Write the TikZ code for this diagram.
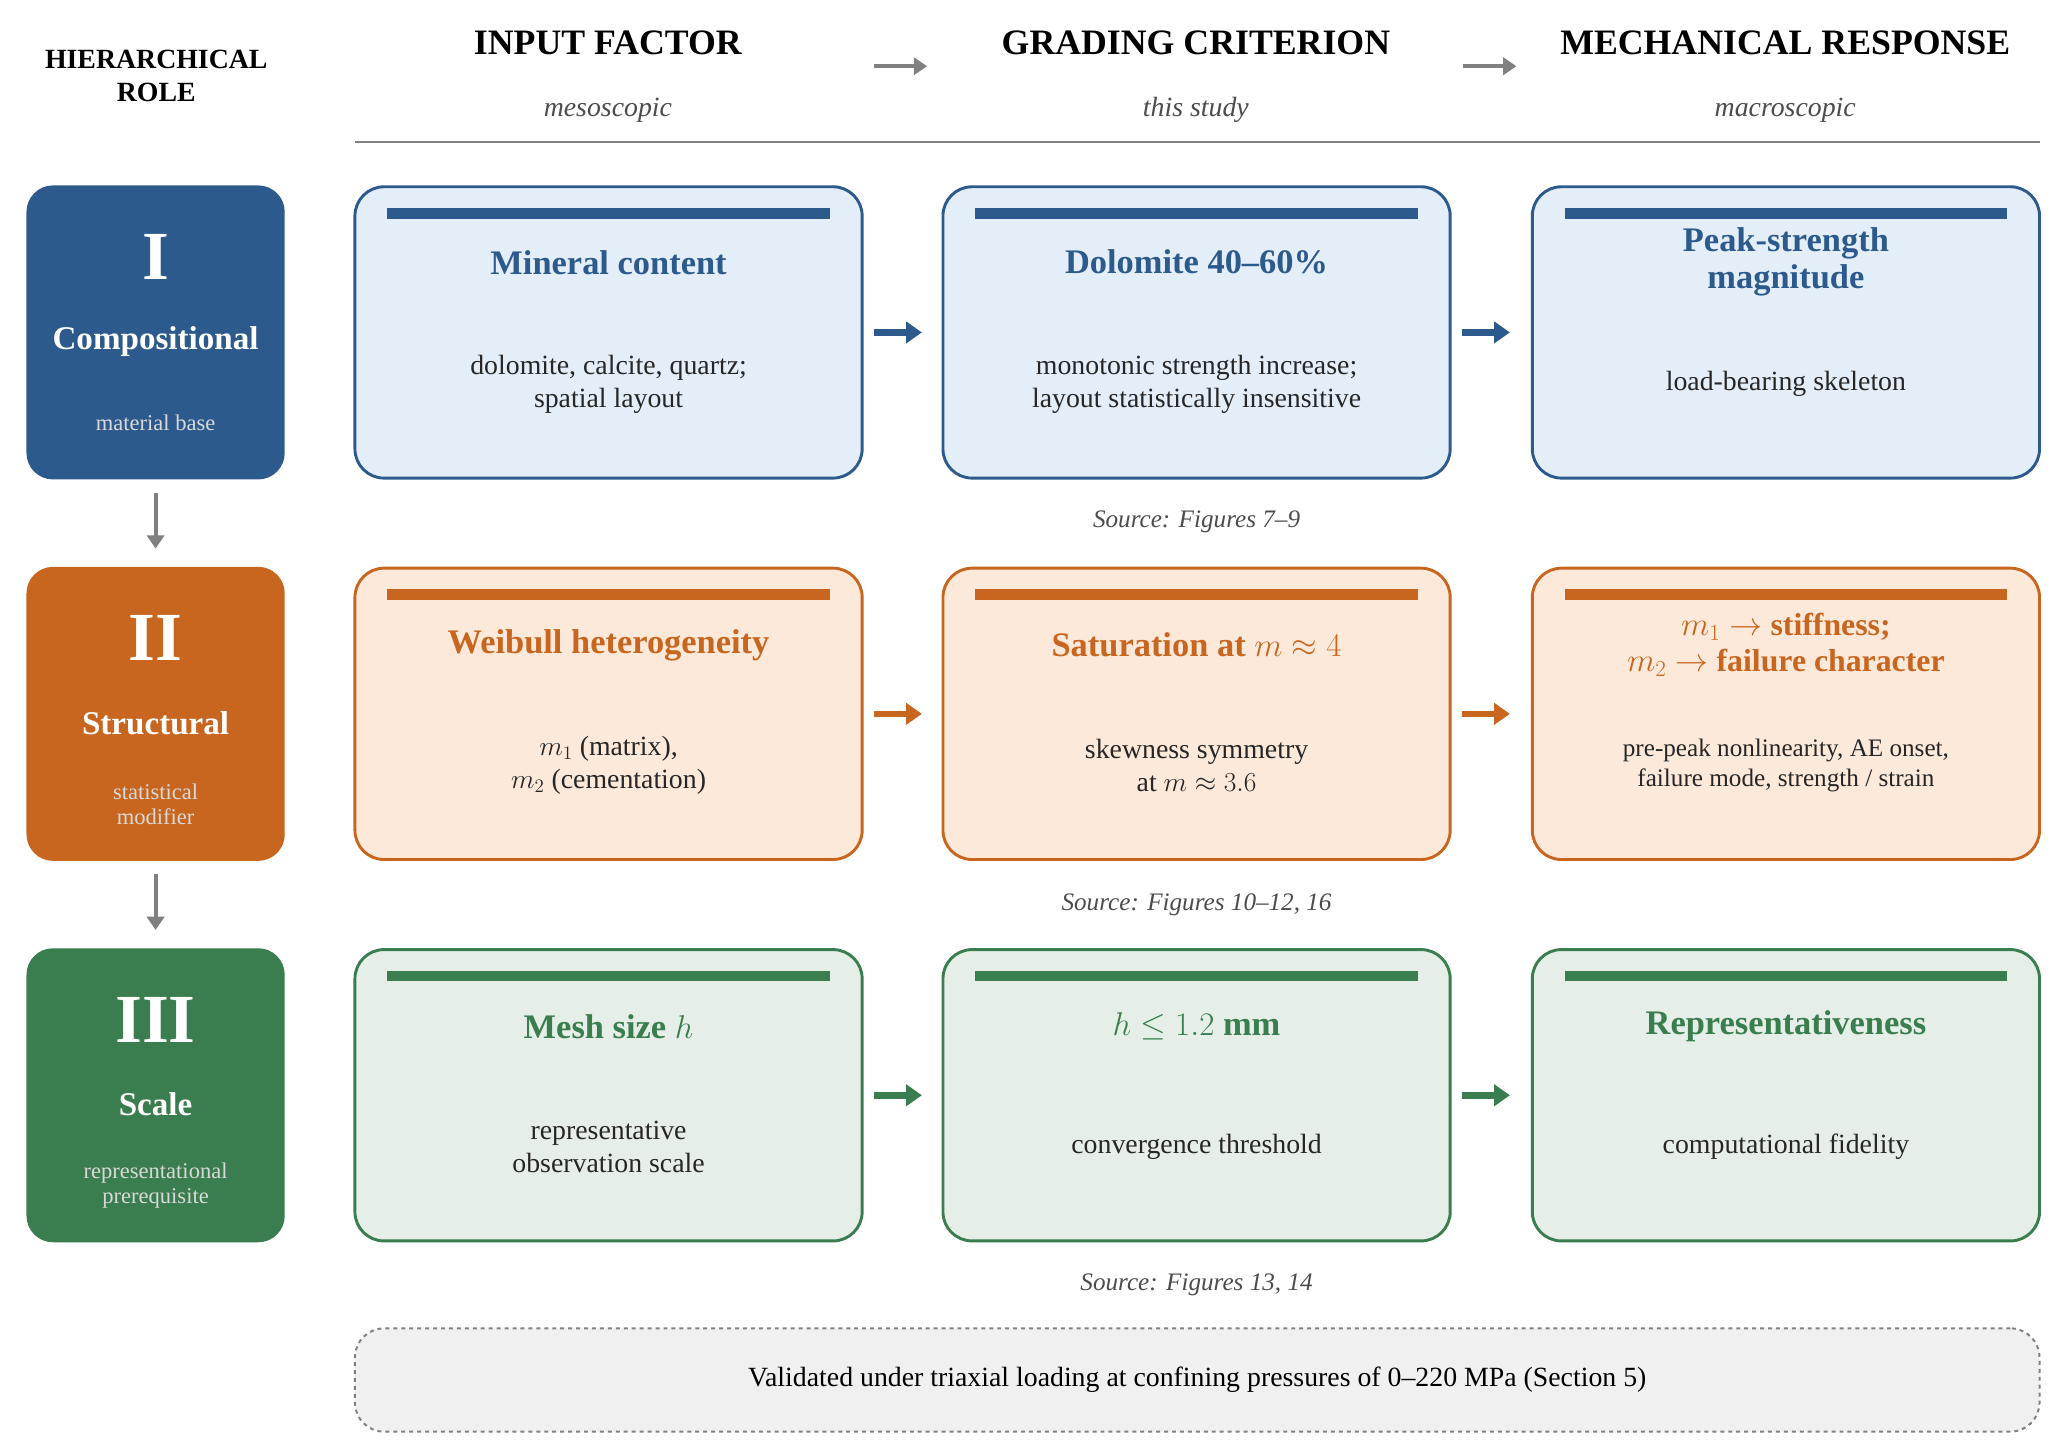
\documentclass[tikz,border=0pt]{standalone}
\usepackage{fontspec}
\setmainfont{Liberation Serif}
\usetikzlibrary{arrows.meta}
\definecolor{cb}{HTML}{2D5A8C}\definecolor{fb}{HTML}{E4EEF8}
\definecolor{co}{HTML}{C8661F}\definecolor{fo}{HTML}{FCE9DA}
\definecolor{cg}{HTML}{3A7D4E}\definecolor{fg}{HTML}{E5EFE7}
\definecolor{gr}{HTML}{808080}
\begin{document}
\begin{tikzpicture}[x=1pt,y=-1pt,
 rolebox/.style={rounded corners=20pt,minimum width=195pt,minimum height=222pt,inner sep=0pt},
 cbox/.style={draw,line width=2.2pt,rounded corners=22pt,minimum width=383pt,minimum height=220pt,inner sep=0pt},
 hdr/.style={font=\fontsize{27}{30}\selectfont\bfseries},
 sub/.style={font=\fontsize{21}{24}\selectfont\itshape,text=black!70},
 ttl/.style={font=\fontsize{26}{28}\selectfont\bfseries,align=center},
 bod/.style={font=\fontsize{21}{25}\selectfont,align=center,text=black!85},
 src/.style={font=\fontsize{19}{22}\selectfont\itshape,text=black!70},
 harr/.style={-{Triangle[length=12pt,width=16pt]},line width=5pt},
 garr/.style={-{Triangle[length=10pt,width=13pt]},line width=3pt,gr}]
\useasboundingbox (0,0) rectangle (1560,1096);
% headers
\node[font=\fontsize{21}{25}\selectfont\bfseries,align=center] (hr) at (118,57) {HIERARCHICAL\\ROLE};
\node[hdr] (h1) at (459,32) {INPUT FACTOR};
\node[hdr] (h2) at (903,32) {GRADING CRITERION};
\node[hdr] (h3) at (1348,32) {MECHANICAL RESPONSE};
\node[sub] (s1) at (459,83) {mesoscopic};
\node[sub] (s2) at (903,83) {this study};
\node[sub] (s3) at (1348,83) {macroscopic};
\coordinate (ha1) at (660,50);\coordinate (hb1) at (700,50);
\coordinate (ha2) at (1105,50);\coordinate (hb2) at (1145,50);
\draw[garr] (ha1)--(hb1); \draw[garr] (ha2)--(hb2);
\coordinate (r1) at (268,107);\coordinate (r2) at (1540,107);
\draw[line width=1.5pt,gr] (r1)--(r2);
% rows
\foreach \y/\c/\f/\n in {251/cb/fb/1,539/co/fo/2,827/cg/fg/3}{
 \node[cbox,draw=\c,fill=\f] (a\n) at (459.5,\y) {};
 \node[cbox,draw=\c,fill=\f] (b\n) at (903.5,\y) {};
 \node[cbox,draw=\c,fill=\f] (c\n) at (1348.5,\y) {};
 \foreach \x in {459.5,903.5,1348.5}{\fill[\c] (\x-167,\y-94) rectangle (\x+167,\y-86);}
 \draw[harr,\c] (a\n.east)++(8,0) -- ++(36,0);
 \draw[harr,\c] (b\n.east)++(8,0) -- ++(36,0);
}
\node[rolebox,fill=cb] (l1) at (117.5,251) {};
\node[rolebox,fill=co] (l2) at (117.5,539) {};
\node[rolebox,fill=cg] (l3) at (117.5,827) {};
\foreach \n/\num/\name/\desc in {1/I/Compositional/material base,2/II/Structural/statistical\\modifier,3/III/Scale/representational\\prerequisite}{
 \node[text=white,font=\fontsize{52}{52}\selectfont\bfseries] at ([yshift=57]l\n.center) {\num};
 \node[text=white,font=\fontsize{25}{28}\selectfont\bfseries] at ([yshift=-7]l\n.center) {\name};
 \node[text=white!85!black,font=\fontsize{17}{19}\selectfont,align=center] at ([yshift=-68]l\n.center) {\desc};
}
\draw[garr] (l1.south)++(0,10) -- ++(0,42);
\draw[garr] (l2.south)++(0,10) -- ++(0,42);
% texts row1
\node[ttl,text=cb] at (459.5,198) {Mineral content};
\node[bod] at (459.5,290) {dolomite, calcite, quartz;\\spatial layout};
\node[ttl,text=cb] at (903.5,198) {Dolomite 40–60\%};
\node[bod] at (903.5,290) {monotonic strength increase;\\layout statistically insensitive};
\node[ttl,text=cb] at (1348.5,198) {Peak-strength\\magnitude};
\node[bod] at (1348.5,290) {load-bearing skeleton};
\node[src] at (903.5,394) {Source: Figures 7–9};
% row2
\node[ttl,text=co] at (459.5,487) {Weibull heterogeneity};
\node[bod] at (459.5,578) {$m_1$ (matrix),\\$m_2$ (cementation)};
\node[ttl,text=co] at (903.5,487) {Saturation at $m\approx4$};
\node[bod] at (903.5,578) {skewness symmetry\\at $m\approx3.6$};
\node[ttl,text=co,font=\fontsize{24}{27}\selectfont\bfseries] at (1348.5,487) {$m_1\rightarrow$ stiffness;\\$m_2\rightarrow$ failure character};
\node[bod,font=\fontsize{19}{22}\selectfont] at (1348.5,578) {pre-peak nonlinearity, AE onset,\\failure mode, strength / strain};
\node[src] at (903.5,683) {Source: Figures 10–12, 16};
% row3
\node[ttl,text=cg] at (459.5,775) {Mesh size $h$};
\node[bod] at (459.5,866) {representative\\observation scale};
\node[ttl,text=cg] at (903.5,775) {$h\leq1.2$ mm};
\node[bod] at (903.5,866) {convergence threshold};
\node[ttl,text=cg] at (1348.5,775) {Representativeness};
\node[bod] at (1348.5,866) {computational fidelity};
\node[src] at (903.5,970) {Source: Figures 13, 14};
% bottom
\node[draw=gr,dashed,line width=1.5pt,fill=black!6,rounded corners=22pt,minimum width=1272pt,minimum height=78pt,font=\fontsize{21}{24}\selectfont] (v) at (904,1042) {Validated under triaxial loading at confining pressures of 0–220 MPa (Section 5)};
\end{tikzpicture}
\end{document}
